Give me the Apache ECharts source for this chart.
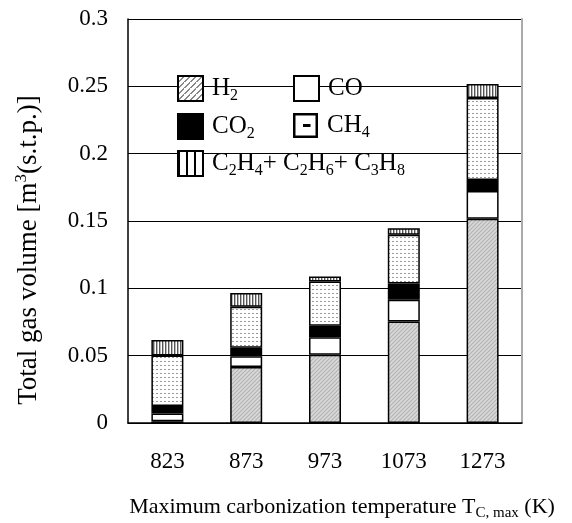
<!DOCTYPE html>
<html><head><meta charset="utf-8">
<script src="https://cdn.jsdelivr.net/npm/echarts@6/dist/echarts.min.js"></script>
<style>html,body{margin:0;padding:0;background:#fff}#c{width:572px;height:523px}</style>
</head><body><div id="c"></div>
<script>
const categories = ['823', '873', '973', '1073', '1273'];
const h2  = [0.0013, 0.0415, 0.0506, 0.0753, 0.1517];
const co  = [0.0057, 0.0081, 0.0131, 0.0163, 0.0205];
const co2 = [0.0056, 0.0062, 0.0086, 0.0120, 0.0082];
const ch4 = [0.0375, 0.0306, 0.0328, 0.0361, 0.0609];
const c2  = [0.0116, 0.0101, 0.0037, 0.0049, 0.0104];
const yTicks = ['0', '0.05', '0.1', '0.15', '0.2', '0.25', '0.3'];
const seriesNames = ['H2', 'CO', 'CO2', 'CH4', 'C2H4+ C2H6+ C3H8'];
const seriesLabels = ['{n|H}{s|2}', '{n|CO}', '{n|CO}{s|2}', '{n|CH}{s|4}', '{n|C}{s|2}{n|H}{s|4}{n|+ C}{s|2}{n|H}{s|6}{n|+ C}{s|3}{n|H}{s|8}'];

const FONT = "'Liberation Serif','Times New Roman',serif";

function pat(w, h, draw) {
  const c = document.createElement('canvas'); c.width = w; c.height = h;
  const g = c.getContext('2d'); draw(g); return { image: c, repeat: 'repeat' };
}
const h2Bar = pat(4, 4, g => { g.fillStyle = '#cdcdcd'; g.fillRect(0,0,4,4); g.fillStyle = '#b4b4b4';
  g.fillRect(3,0,1,1); g.fillRect(2,1,1,1); g.fillRect(1,2,1,1); g.fillRect(0,3,1,1);
  g.fillStyle = '#dadada'; g.fillRect(1,0,1,1); g.fillRect(0,1,1,1); g.fillRect(3,2,1,1); g.fillRect(2,3,1,1); });
const h2Leg = pat(6, 6, g => { g.fillStyle = '#fff'; g.fillRect(0,0,6,6); g.fillStyle = '#888';
  for (let i = 0; i < 6; i++) { g.fillRect((5 - i) % 6, i, 2, 1); } });
const ch4Bar = pat(4, 4, g => { g.fillStyle = '#fff'; g.fillRect(0,0,4,4); g.fillStyle = '#999'; g.fillRect(0,1,2,1); });
const c2Bar = pat(3, 2, g => { g.fillStyle = '#fff'; g.fillRect(0,0,3,2); g.fillStyle = '#555'; g.fillRect(0,0,1,2); g.fillStyle = '#bbb'; g.fillRect(1,0,1,2); });
const c2Leg = pat(8, 2, g => { g.fillStyle = '#fff'; g.fillRect(0,0,8,2); g.fillStyle = '#000'; g.fillRect(0,0,2,2); });

const fills = [h2Bar, '#fff', '#000', ch4Bar, c2Bar];
const values = [h2, co, co2, ch4, c2];

const rich = {
  n: { fontFamily: FONT, fontSize: 25, color: '#000', lineHeight: 30, verticalAlign: 'middle' },
  s: { fontFamily: FONT, fontSize: 16, color: '#000', lineHeight: 30, verticalAlign: 'bottom' }
};

const legendPos = [[177, 75], [293, 75], [177, 113], [293, 113], [177, 150]];
const legendStyle = [
  { color: h2Leg, borderColor: '#000', borderWidth: 2 },
  { color: '#fff', borderColor: '#000', borderWidth: 2 },
  { color: '#000', borderColor: '#000', borderWidth: 2 },
  null,
  { color: c2Leg, borderColor: '#000', borderWidth: 2 }
];

const legends = seriesNames.map((nm, i) => {
  const d = { name: nm };
  if (i === 3) {
    d.icon = 'path://M0,0 L10,0 L10,10 L0,10 Z M1,1 L1,9 L9,9 L9,1 Z M4,4.4 L7,4.4 L7,5.6 L4,5.6 Z';
    d.itemStyle = { color: '#000', borderWidth: 0 };
  } else {
    d.icon = 'rect';
    d.itemStyle = legendStyle[i];
  }
  return {
    data: [d], left: legendPos[i][0], top: legendPos[i][1],
    itemWidth: 25, itemHeight: 25, itemGap: 8, padding: 0,
    selectedMode: false,
    formatter: () => seriesLabels[i],
    textStyle: { rich: rich, padding: [0, 0, 0, 4] }
  };
});

const chart = echarts.init(document.getElementById('c'), null, { renderer: 'canvas' });
chart.setOption({
  animation: false,
  backgroundColor: '#fff',
  grid: { left: 128, right: 50, top: 19, bottom: 100, containLabel: false },
  legend: legends,
  xAxis: {
    type: 'category', data: categories,
    axisLine: { lineStyle: { color: '#000', width: 1.5 } },
    axisTick: { inside: true, length: 7, lineStyle: { color: '#555', width: 1.5 } },
    axisLabel: { fontFamily: FONT, fontSize: 23, color: '#000', margin: 27 }
  },
  yAxis: [{
    type: 'value', min: 0, max: 0.3, interval: 0.05,
    axisLine: { show: true, lineStyle: { color: '#000', width: 1.5 } },
    axisTick: { show: false },
    splitLine: { lineStyle: { color: '#000', width: 1.2 } },
    axisLabel: { fontFamily: FONT, fontSize: 23, color: '#000', margin: 20,
      formatter: (v) => yTicks[Math.round(v / 0.05)] }
  }, {
    type: 'value', min: 0, max: 0.3, interval: 0.05, position: 'right',
    axisLine: { show: true, lineStyle: { color: '#aaa', width: 2 } },
    axisTick: { show: false }, axisLabel: { show: false }, splitLine: { show: false }
  }],
  series: seriesNames.map((nm, i) => ({
    name: nm, type: 'bar', stack: 'gas', barWidth: 32,
    data: values[i],
    itemStyle: { color: fills[i], borderColor: '#000', borderWidth: 1.5 }
  })),
  graphic: [
    { type: 'text', x: 29, y: 250, rotation: Math.PI / 2,
      style: { text: '{n|Total gas volume [m}{p|3}{n|(s.t.p.)]}', align: 'center', verticalAlign: 'middle',
        rich: { n: { fontFamily: FONT, fontSize: 27, fill: '#000', lineHeight: 32, verticalAlign: 'middle' },
                p: { fontFamily: FONT, fontSize: 17, fill: '#000', lineHeight: 32, verticalAlign: 'top' } } } },
    { type: 'text', x: 342, y: 507,
      style: { text: '{n|Maximum carbonization temperature T}{s|C, max}{n| (K)}', align: 'center', verticalAlign: 'middle',
        rich: { n: { fontFamily: FONT, fontSize: 22, fill: '#000', lineHeight: 28, verticalAlign: 'middle' },
                s: { fontFamily: FONT, fontSize: 15, fill: '#000', lineHeight: 28, verticalAlign: 'bottom' } } } }
  ]
});
</script></body></html>
